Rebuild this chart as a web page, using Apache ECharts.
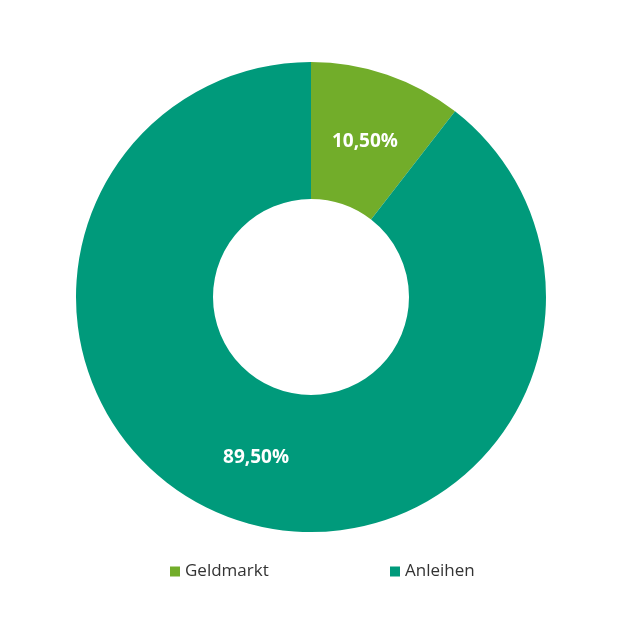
<!DOCTYPE html>
<html>
<head>
<meta charset="utf-8">
<script src="https://cdn.jsdelivr.net/npm/echarts@6/dist/echarts.min.js"></script>
<style>html,body{margin:0;padding:0;background:#fff}#c{width:628px;height:628px}</style>
</head>
<body>
<div id="c"></div>
<script>
const categories = ['Geldmarkt', 'Anleihen'];
const values = [10.5, 89.5];
const labels = ['10,50%', '89,50%'];
const colors = ['#72ad2a', '#009a7b'];

const legendText = {fontFamily: 'Open Sans', fontSize: 17, color: '#333'};
const labelOffsets = [[-1, 5], [0, 0]];
const chart = echarts.init(document.getElementById('c'), null, {renderer: 'canvas'});
chart.setOption({
  animation: false,
  color: colors,
  legend: [
    {data: [categories[0]], left: 170, top: 563, padding: 0, itemWidth: 10, itemHeight: 10,
     icon: 'rect', textStyle: legendText},
    {data: [categories[1]], left: 390, top: 563, padding: 0, itemWidth: 10, itemHeight: 10,
     icon: 'rect', textStyle: legendText}
  ],
  series: [{
    type: 'pie',
    center: [311, 297],
    radius: [98, 235],
    startAngle: 90,
    clockwise: true,
    avoidLabelOverlap: false,
    itemStyle: {borderWidth: 0},
    label: {
      show: true,
      position: 'inside',
      color: '#fff',
      fontFamily: 'Open Sans',
      fontWeight: 'bold',
      fontSize: 19,
      formatter: p => labels[p.dataIndex]
    },
    labelLine: {show: false},
    data: categories.map((n, i) => ({name: n, value: values[i], label: {offset: labelOffsets[i]}}))
  }]
});
</script>
</body>
</html>
